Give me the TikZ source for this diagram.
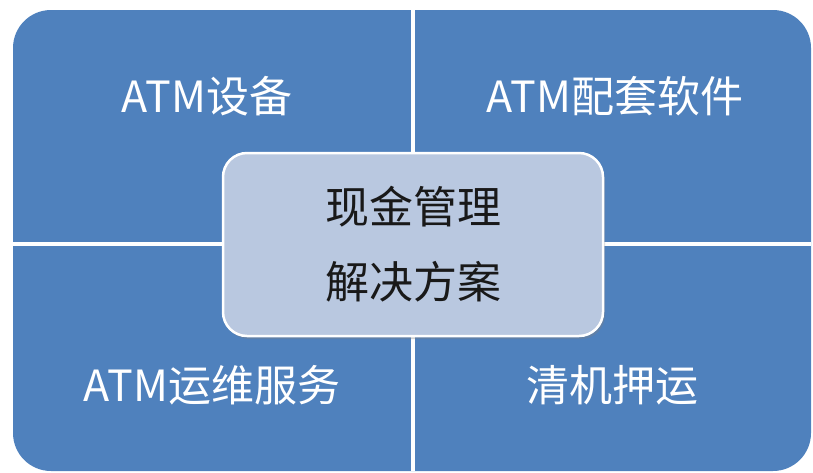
\documentclass[tikz,border=0pt]{standalone}
\usepackage{fontspec}
\newfontfamily\cjk{Noto Sans CJK SC}
\usetikzlibrary{shadows}
\definecolor{qblue}{RGB}{79,129,189}
\definecolor{cfill}{RGB}{185,200,224}
\definecolor{ctext}{RGB}{25,25,25}
\tikzset{
  quadlabel/.style={text=white, font=\cjk\fontsize{43}{50}\selectfont, inner sep=0pt},
  centerbox/.style={rectangle, rounded corners=24pt, fill=cfill, draw=white, line width=2.5pt,
    minimum width=380pt, minimum height=183pt, align=center, text=ctext,
    font=\cjk\fontsize{44}{75}\selectfont,
    drop shadow={shadow xshift=2pt, shadow yshift=-3pt, opacity=0.35}},
  gap/.style={white, line width=4pt}
}
\begin{document}
\begin{tikzpicture}[x=1pt,y=-1pt]
\useasboundingbox (0,0) rectangle (813,472);
\fill[qblue, rounded corners=38pt] (13,10) rectangle (811,471);
\coordinate (gtop) at (413,10);
\coordinate (gbot) at (413,471);
\coordinate (gleft) at (13,244);
\coordinate (gright) at (811,244);
\draw[gap] (gtop) -- (gbot);
\draw[gap] (gleft) -- (gright);
\node[quadlabel] (tl) at (207,96) {ATM设备};
\node[quadlabel] (tr) at (615,96) {ATM配套软件};
\node[quadlabel] (bl) at (212,385) {ATM运维服务};
\node[quadlabel] (br) at (612,385) {清机押运};
\node[centerbox] (center) at (413,244.5) {现金管理\\解决方案};
\end{tikzpicture}
\end{document}
